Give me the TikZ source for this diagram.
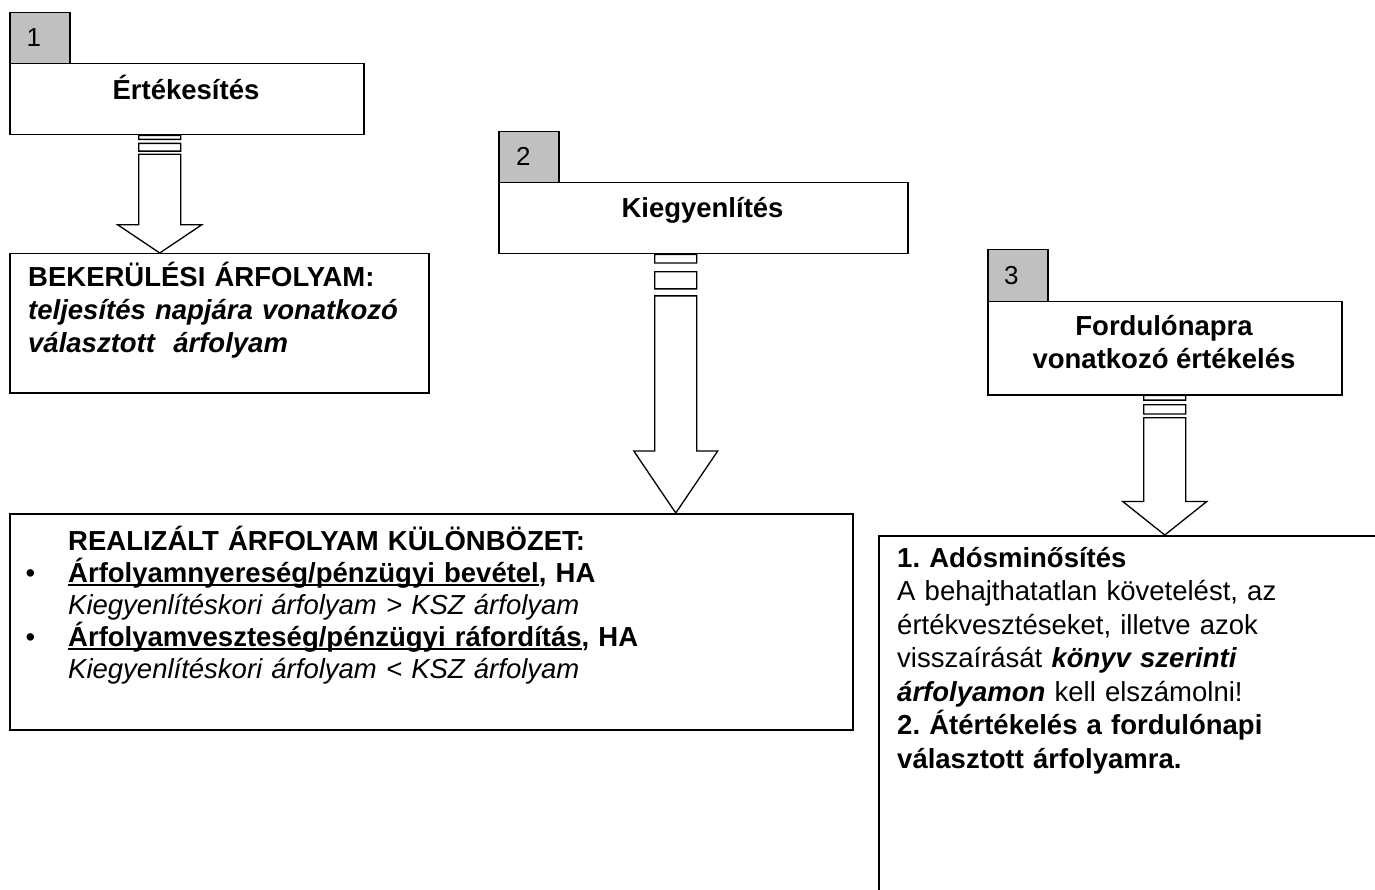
\documentclass[tikz,border=0pt]{standalone}
\usepackage{fontspec}
\setmainfont{Liberation Sans}
\usetikzlibrary{calc}
\definecolor{tabgray}{HTML}{C0C0C0}
\newcommand\myul[1]{\mbox{\setbox0=\hbox{#1}\rlap{\copy0}\rule[-3.5pt]{\wd0}{1.6pt}}}
\newcommand\mybul{\leavevmode\llap{•\hspace{33pt}}}
\newcommand\blockarrow[2]{%
  \draw[barr] let \p1=(#1), \p2=(#2), \n1={\y1-\y2} in
    ({\x1-21pt},\y1) rectangle ({\x1+21pt},{\y1-0.033*\n1})
    ({\x1-21pt},{\y1-0.067*\n1}) rectangle ({\x1+21pt},{\y1-0.133*\n1})
    ({\x1-21pt},{\y1-0.16*\n1}) -- ({\x1-21pt},{\y1-0.76*\n1}) -- ({\x1-42pt},{\y1-0.76*\n1})
    -- (\x1,\y2) -- ({\x1+42pt},{\y1-0.76*\n1}) -- ({\x1+21pt},{\y1-0.76*\n1})
    -- ({\x1+21pt},{\y1-0.16*\n1}) -- cycle;}
\begin{document}
\frenchspacing
\begin{tikzpicture}[x=1pt,y=-1pt,
  box/.style={draw=black, line width=1.5pt, fill=white, inner sep=0pt, anchor=north west},
  tabbox/.style={box, fill=tabgray},
  barr/.style={draw=black, line width=1.3pt, fill=white, line join=miter},
  txt/.style={inner sep=0pt, anchor=base west, font=\fontsize{27.5}{33}\selectfont},
  ctxt/.style={inner sep=0pt, anchor=base, font=\fontsize{27.5}{33}\selectfont\bfseries},
  num/.style={inner sep=0pt, anchor=base west, font=\fontsize{26}{30}\selectfont}]
\useasboundingbox (0,0) rectangle (1375,890);
\clip (0,0) rectangle (1375,890);
\fill[white] (0,0) rectangle (1375,890);

% column 1
\node[tabbox, minimum width=60pt, minimum height=51pt] (tab1) at (9,12) {};
\node[num] (n1) at (26.5,47) {1};
\node[box, minimum width=354pt, minimum height=71pt] (h1) at (9,63) {};
\node[ctxt] (h1t) at (186,100) {Értékesítés};
\node[box, minimum width=419pt, minimum height=139pt] (b1) at (9,253) {};
\node[txt, text width=400pt, align=left, font=\fontsize{27.5}{33}\selectfont\bfseries] (b1t) at (28,287)
  {BEKERÜLÉSI ÁRFOLYAM:\\ \textit{teljesítés napjára vonatkozó}\\ \textit{választott~ árfolyam}};

% column 2
\node[tabbox, minimum width=60pt, minimum height=51pt] (tab2) at (498,131) {};
\node[num] (n2) at (516,166) {2};
\node[box, minimum width=409pt, minimum height=71pt] (h2) at (498,182) {};
\node[ctxt] (h2t) at (702.5,218) {Kiegyenlítés};
\node[box, minimum width=843pt, minimum height=216pt] (b2) at (9,513) {};
\node[txt, text width=780pt, align=left, font=\fontsize{27.5}{32}\selectfont] (b2t) at (68,550)
  {\textbf{REALIZÁLT ÁRFOLYAM KÜLÖNBÖZET:}\\
   \mybul\textbf{\myul{Árfolyamnyereség/pénzügyi bevétel}, HA}\\
   \textit{Kiegyenlítéskori árfolyam > KSZ árfolyam}\\
   \mybul\textbf{\myul{Árfolyamveszteség/pénzügyi ráfordítás}, HA}\\
   \textit{Kiegyenlítéskori árfolyam < KSZ árfolyam}};

% column 3
\node[tabbox, minimum width=60pt, minimum height=52pt] (tab3) at (987,249) {};
\node[num] (n3) at (1004,285) {3};
\node[box, minimum width=354pt, minimum height=93pt] (h3) at (987,301) {};
\node[ctxt] (h3t1) at (1164,335) {Fordulónapra};
\node[ctxt] (h3t2) at (1164,368) {vonatkozó értékelés};
\node[box, minimum width=600pt, minimum height=420pt] (b3) at (878,535) {};
\node[txt, text width=470pt, align=left, font=\fontsize{27.5}{33.5}\selectfont] (b3t) at (897,567)
  {\textbf{1. Adósminősítés}\\
   A behajthatatlan követelést, az\\
   értékvesztéseket, illetve azok\\
   visszaírását \textbf{\textit{könyv szerinti}}\\
   \textbf{\textit{árfolyamon}} kell elszámolni!\\
   \textbf{2. Átértékelés a fordulónapi}\\
   \textbf{választott árfolyamra.}};

% arrows
\coordinate (a1) at ($(h1.south west)!0.424!(h1.south east)$);
\coordinate (a2) at ($(h2.south west)!0.433!(h2.south east)$);
\blockarrow{a1}{b1.north}
\blockarrow{a2}{b2.north}
\blockarrow{h3.south}{b3.north}
\end{tikzpicture}
\end{document}
